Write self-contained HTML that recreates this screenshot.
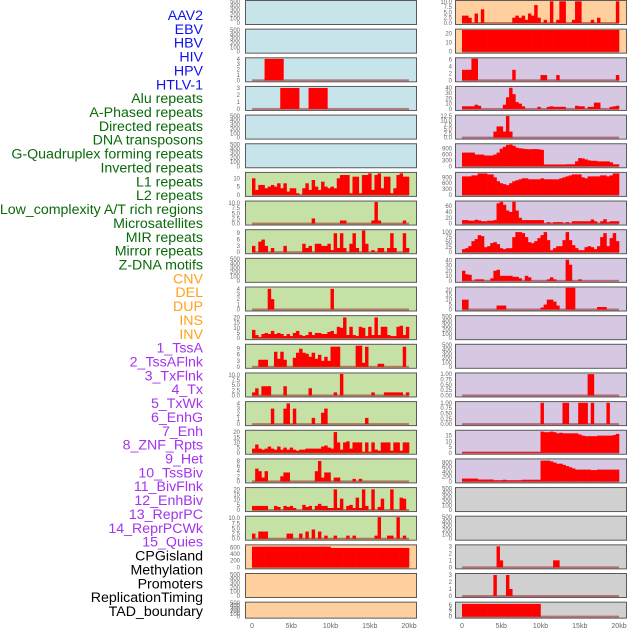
<!DOCTYPE html>
<html><head><meta charset="utf-8">
<style>
html,body{margin:0;padding:0;background:#fff;}
svg{display:block;font-family:"Liberation Sans",sans-serif;}
</style></head>
<body>
<svg id="chart" width="630" height="630" viewBox="0 0 630 630"></svg>
<script>
// ---- labels ----
const labelNames = ["AAV2","EBV","HBV","HIV","HPV","HTLV-1","Alu repeats","A-Phased repeats","Directed repeats","DNA transposons","G-Quadruplex forming repeats","Inverted repeats","L1 repeats","L2 repeats","Low_complexity A/T rich regions","Microsatellites","MIR repeats","Mirror repeats","Z-DNA motifs","CNV","DEL","DUP","INS","INV","1_TssA","2_TssAFlnk","3_TxFlnk","4_Tx","5_TxWk","6_EnhG","7_Enh","8_ZNF_Rpts","9_Het","10_TssBiv","11_BivFlnk","12_EnhBiv","13_ReprPC","14_ReprPCWk","15_Quies","CPGisland","Methylation","Promoters","ReplicationTiming","TAD_boundary"];
const labelGroups = ["v","v","v","v","v","v","r","r","r","r","r","r","r","r","r","r","r","r","r","s","s","s","s","s","c","c","c","c","c","c","c","c","c","c","c","c","c","c","c","o","o","o","o","o"];
const xTickLabels = ["0","5kb","10kb","15kb","20kb"];
const xTickKb = [0,5,10,15,20];

// ---- left column series (50 bins of 0.4kb) ----
const L2 = [0,0,0,0,4,4,4,4,4,4, 0,0,0,0,0,0,0,0,0,0, 0,0,0,0,0,0,0,0,0,0, 0,0,0,0,0,0,0,0,0,0, 0,0,0,0,0,0,0,0,0,0];
const L3 = [0,0,0,0,0,0,0,0,0,3, 3,3,3,3,3,0,0,0,3,3, 3,3,3,3,0,0,0,0,0,0, 0,0,0,0,0,0,0,0,0,0, 0,0,0,0,0,0,0,0,0,0];
const L6 = [10,3,6,6,4,5,6,5,7,4, 7,2,4,4,1,0,4,7,3,9, 5,3,8,5,4,5,4,10,12,12, 12,1,11,11,1,12,12,13,3,12, 13,4,11,11,1,4,12,13,11,11];
const L7 = [0,0,0,0,0,0,0,0,0,0, 0,0,0,0,0,0,0,0,0,2.5, 0,0,0,0,0,0,0,0,1.5,1.5, 0,0,0,0,0,0,0,0,1.5,10.5, 1.5,0,0,0,0,0,0,0,1.5,0];
const L8 = [3,0,5,6,3,0,2,0,0,0, 3,0,0,0,0,0,4,2,3,0, 4,4,3,3,4,1,9,2,9,2, 0,4,9,2,0,11,4,0,1,0, 2,2,0,2,9,2,0,0,9,2];
const L10 = [0,0,0,0,0,4,2,0,0,0, 0,0,0,0,0,0,0,0,0,0, 0,0,0,0,0,4,0,0,0,0, 0,0,0,0,0,0,0,0,0,0, 0,0,0,0,0,0,0,0,0,0];
const L11 = [8,3,1,4,5,4,7,4,5,4, 2,4,2,5,7,3,2,3,6,3, 5,5,4,4,6,7,4,11,10,20, 3,11,3,2,11,10,2,11,3,20, 3,11,11,3,2,2,11,12,3,11];
const L12 = [0,0,3.5,3.5,3.5,0,0,7.5,4,7.5, 3.5,0,0,4.5,7,9,7,6.5,5,7, 4,6,3,5,3,10,10,10,0,0, 0,0,0,10.5,10.5,2,10,0,0,0, 1.5,1.5,0,0,0,0,0,0,10,0];
const L13 = [1.5,3.5,0,4.5,4.5,4.5,0,0,0,0, 4.5,0,0,0,0,0,0,0,3.5,0, 0,0,0,0,0,0,1.5,0,10.5,0, 0,0,0,0,0,0,0,0,1.5,0, 0,0,1.5,1.5,1.5,1.5,1.5,1.5,0,1.5];
const L14 = [0,0,0,0,0,0,3,0,0,0, 3,4,0,3,0,0,0,0,0,1.2, 0,0,2.2,3,0,0,0,0,0,0, 0,0,0,0,0,0,1.2,0,0,0, 0,0,0,0,0,0,0,0,0,0];
const L15 = [4,8,4,3,4,6,4,3,6,3, 5,3,5,3,2,3,3,4,4,4, 4,4,6,7,5,4,20,10,3,10, 11,4,10,10,10,1,10,1,10,3, 2,10,10,10,2,10,10,2,10,10];
const L16 = [0,5,4,1.5,4,0,0,0,0,2, 3.5,3.5,0,0,0,0,0,0,0,0, 4,8,1.5,3.5,3.5,0,1.5,1.5,0,0, 0,0,1,0,1,0,0,0,0,0, 0,0,0,0,0,0,0,0,0,0];
const L17 = [4,4,4,4,4,0,0,4,3,0, 4,3,4,2,0,0,5,3,4,0, 4,6,4,4,2,2,20,2,11,0, 4,5,2,12,2,20,4,0,20,0, 3,11,0,0,20,0,0,12,11,0];
const L18 = [2.5,0,3.5,3.5,3.5,0,0,0,0,0, 0,2.5,2.5,0,0,2.5,0,3.5,0,4.5, 0,3.5,0,1.5,0,0,1.5,0,0,0, 1.5,0,1.5,0,0,0,0,0,0,1.5, 10.5,0,0,1.5,1.5,0,10.5,0,1.5,0];
const L19 = [620,620,620,620,620,620,620,620,620,620, 620,620,620,620,620,620,620,620,620,620, 620,620,620,620,620,580,580,580,580,580, 580,580,580,580,580,580,580,580,580,580, 580,580,580,580,580,580,580,580,580,580];

// ---- right column series ----
const R0 = [3.5,3.5,2.5,0,4.5,0,6.5,0,0,0, 0,0,0,0,0,0,2.5,3.5,2.5,3.5, 1.5,4.5,3.5,8.5,2.5,0,1.5,0,10.5,0, 1.5,10.5,10.5,0,0,1.5,10.5,10.5,0,0, 0,1.5,0,2.5,0,0,0,0,0,10.5];
const R1 = [24,24,24,24,24,24,24,24,24,24, 24,24,24,24,24,24,24,24,24,24, 24,24,24,24,24,24,24,24,24,24, 24,24,24,24,24,24,24,24,24,24, 24,24,24,24,24,24,24,24,24,24];
const R2 = [3,3,3,6.2,6.2,0,0,0,0,0, 0,0,0,0,0,0,3,0,0,0, 0,0,0,0,0,1.5,1.5,0,0,0, 1.5,0,0,0,0,0,0,0,0,0, 0,0,0,0,0,0,0,0,0,1.5];
const R3 = [5,5,5,5,8,6,0,0,0,0, 0,0,0,8,22,40,28,13,10,5, 0,0,0,0,4,0,0,4,5,4, 4,4,4,0,0,0,6,5,5,0, 4,4,12,12,0,0,0,4,5,6];
const R4 = [0,0,0,0,0,0,0,0,0,0, 3.5,6.5,6.5,3.5,12.5,3.5,0,0,0,0, 0,0,0,0,0,0,0,0,0,0, 0,0,0,0,0,0,0,0,0,0, 0,0,0,0,0,0,0,0,0,0];
const R5 = [700,700,700,700,600,600,600,550,550,550, 600,700,900,1000,1100,1120,1050,950,920,900, 880,870,880,880,870,840,90,90,90,90, 90,90,90,100,100,100,250,420,400,350, 300,280,280,250,250,250,250,200,100,100];
const R6 = [950,950,950,1000,1000,1100,1100,1100,1050,1050, 900,700,600,550,500,600,700,750,800,850, 850,800,800,800,800,850,800,800,800,800, 800,850,900,950,1000,1050,1050,1050,900,850, 950,950,950,950,1000,1000,950,1000,1100,1100];
const R7 = [12,12,10,10,13,11,8,8,10,10, 12,70,75,65,45,40,75,45,20,12, 12,12,12,12,12,12,1,5,1,5, 5,5,1,5,1,8,8,8,8,8, 8,14,8,1,8,15,5,8,8,8];
const R8 = [15,20,30,55,65,85,80,25,30,45, 50,40,20,15,20,20,75,100,100,95, 75,50,45,55,70,85,100,60,10,20, 30,30,60,100,60,35,20,10,10,25, 30,25,15,30,75,95,30,70,95,55];
const R9 = [20,13,12,0,3,3,3,0,0,5, 20,22,10,10,10,10,8,8,5,0, 10,7,0,0,0,0,0,3,7,3, 0,0,0,42,32,0,0,3,0,0, 0,0,0,0,0,0,0,0,0,0];
const R10 = [10,10,0,0,0,0,0,0,0,0, 0,4,4,4,0,0,0,0,0,0, 0,0,0,0,0,2,5,10,10,8, 4,0,0,22,22,22,0,0,0,0, 0,0,0,2.5,2.5,2.5,0,0,0,0];
const R13 = [0,0,0,0,0,0,0,0,0,0, 0,0,0,0,0,0,0,0,0,0, 0,0,0,0,0,0,0,0,0,0, 0,0,0,0,0,0,0,0,0,0, 1,1,0,0,0,0,0,0,0,0];
const R14 = [0,0,0,0,0,0,0,0,0,0, 0,0,0,0,0,0,0,0,0,0, 0,0,0,0,0,1,0,0,0,0, 0,0,1,1,0,0,0,1,1,1, 0,1,0,0,0,0,1,0,0,0];
const R15 = [0.8,0.8,0.8,0.8,0.8,0.8,0.8,0.8,0.8,0.8, 0.8,0.8,0.8,0.8,0.8,0.8,0.8,0.8,0.8,0.8, 0.8,0.8,0.8,0.8,0.8,18.5,18,18,18.5,18, 17,17.5,17,17,17,17,17,16,15,14.5, 14.5,14.5,14.5,15,15,15,15,15,15.5,16.5];
const R16 = [120,120,120,120,120,80,80,80,80,80, 50,50,50,70,50,50,50,50,50,70, 70,70,70,70,70,880,880,880,850,800, 750,750,700,650,600,550,500,500,500,500, 500,480,480,500,500,500,500,500,500,500];
const R19 = [0,0,0,0,0,0,0,0,0,0, 0,3,1,0,0,0,0,0,0,0, 0,0,0,0,0,0,0,0,0,1, 1,0,0,0,0,0,0,0,0,0, 0,0,0,0,0,0,0,0,0,0];
const R20 = [0,0,0,0,0,0,0,0,0,0, 3,0,0,0,3,1,0,0,0,0, 0,0,0,0,0,0,0,0,0,0, 0,0,0,0,0,0,0,0,0,0, 0,0,0,0,0,0,0,0,0,0];
const R21 = [6.5,6.5,6.5,6.5,6.5,6.5,6.5,6.5,6.5,6.5, 6.5,6.5,6.5,6.5,6.5,6.5,6.5,6.5,6.5,6.5, 6.5,6.5,6.5,6.5,6.5,0,0,0,0,0, 0,0,0,0,0,0,0,0,0,0, 0,0,0,0,0,0,0,0,0,0];

// tick sets
const T500 = ["0","100","200","300","400","500"];
const T4 = ["0","1","2","3","4"], T3 = ["0","1","2","3"];
const T10 = ["0","5","10"], T25 = ["0.0","2.5","5.0","7.5","10.0"], T9 = ["0","3","6","9"];
const T20 = ["0","5","10","15","20"], T8 = ["0","2","4","6","8"], T600 = ["0","200","400","600"];
const T6 = ["0","2","4","6"], T2010 = ["0","10","20"], T40 = ["0","10","20","30","40"];
const T125 = ["0.0","2.5","5.0","7.5","10.0","12.5"], T900 = ["0","300","600","900"];
const T60 = ["0","20","40","60"], T100 = ["0","25","50","75","100"], T1 = ["0.00","0.25","0.50","0.75","1.00"];
const T15 = ["0","5","10","15"], T800 = ["0","200","400","600","800"];

const C_BLUE="#c8e4eb", C_GREEN="#c6e1a6", C_PEACH="#ffd09e", C_LAV="#d6c7e3", C_GREY="#d0d0d0";

const leftPanels = [
 [[],500,T500,C_BLUE],[[],500,T500,C_BLUE],[L2,4.05,T4,C_BLUE],[L3,3.1,T3,C_BLUE],[[],500,T500,C_BLUE],[[],500,T500,C_BLUE],
 [L6,13.1,T10,C_GREEN],[L7,10.6,T25,C_GREEN],[L8,10.3,T9,C_GREEN],[[],500,T500,C_GREEN],[L10,4.2,T4,C_GREEN],
 [L11,21,T20,C_GREEN],[L12,10.8,T9,C_GREEN],[L13,10.6,T25,C_GREEN],[L14,4.2,T4,C_GREEN],[L15,21,T20,C_GREEN],
 [L16,8.5,T8,C_GREEN],[L17,21,T20,C_GREEN],[L18,10.6,T25,C_GREEN],[L19,650,T600,C_PEACH],[[],500,T500,C_PEACH],[[],500,T500,C_PEACH]
];
const rightPanels = [
 [R0,10.3,T25,C_PEACH],[R1,24,T2010,C_PEACH],[R2,6.2,T6,C_LAV],[R3,41,T40,C_LAV],[R4,12.6,T125,C_LAV],[R5,1113,T900,C_LAV],
 [R6,1113,T900,C_LAV],[R7,75,T60,C_LAV],[R8,108,T100,C_LAV],[R9,43,T40,C_LAV],[R10,22,T20,C_LAV],[[],500,T500,C_LAV],
 [[],500,T500,C_LAV],[R13,1.02,T1,C_LAV],[R14,1.02,T1,C_LAV],[R15,19,T15,C_LAV],[R16,920,T800,C_LAV],[[],500,T500,C_GREY],
 [[],500,T500,C_GREY],[R19,3.1,T3,C_GREY],[R20,3.1,T3,C_GREY],[R21,7,T6,C_GREY]
];

const svg = document.getElementById('chart');
const NS = "http://www.w3.org/2000/svg";
function mk(tag, attrs){ const e=document.createElementNS(NS,tag); for(const k in attrs) e.setAttribute(k,attrs[k]); return e; }

const groupColor = {v:"#1111ee", r:"#0a6a0a", s:"#ffa21a", c:"#a333ee", o:"#000000"};
labelNames.forEach((n,i)=>{
  const t = mk('text',{x:203,y:20+13.86*i,'text-anchor':'end','font-size':14.2,fill:groupColor[labelGroups[i]]});
  t.textContent = n;
  
  
  svg.appendChild(t);
});

function rowTop(i){ return 0.5 + 28.65*i; }
function rowH(i){ return i===21 ? 16 : 24; }

function drawColumn(panels, px, x0, labelX, side){
  const x1 = x0 + 157;
  const xs = kb => x0 + kb/20*(x1-x0);
  panels.forEach((p,i)=>{
    const [vals,ymax,ticks,bg] = p;
    const top=rowTop(i), h=rowH(i);
    const y0 = top+h-1.5, yT = top+0.8;
    const ys = v => y0 - Math.min(v,ymax)/ymax*(y0-yT);
    const g = mk('g',{});
    
    
    const r = mk('rect',{x:px,y:top,width:171,height:h,fill:bg,stroke:'#5a5a5a','stroke-width':1});
    
    
    g.appendChild(r);
    ticks.forEach(tl=>{
      const v=parseFloat(tl);
      const t=mk('text',{x:labelX,y:ys(v)+2,'text-anchor':'end','font-size':6,fill:'#666'});
      t.textContent=tl;
      
      
      g.appendChild(t);
    });
    if(vals.length){
      const base = mk('rect',{x:xs(0),y:y0-1,width:xs(20)-xs(0),height:2,fill:'rgba(150,20,20,0.5)'});
      
      
      g.appendChild(base);
      const bw = 20/vals.length;
      vals.forEach((v,j)=>{
        if(v<=0) return;
        const b = mk('rect',{x:xs(j*bw),y:ys(v),width:xs((j+1)*bw)-xs(j*bw)+0.3,height:y0-ys(v),fill:'#ff0000'});
        
        
        g.appendChild(b);
      });
    }
    svg.appendChild(g);
  });
  xTickKb.forEach((k,i)=>{
    const t=mk('text',{x:xs(k),y:628,'text-anchor':'middle','font-size':7,fill:'#666'});
    t.textContent=xTickLabels[i];
    
    
    svg.appendChild(t);
  });
}
drawColumn(leftPanels, 245.5, 252, 240, 'left');
drawColumn(rightPanels, 455.5, 462, 452, 'right');
</script>
</body></html>
